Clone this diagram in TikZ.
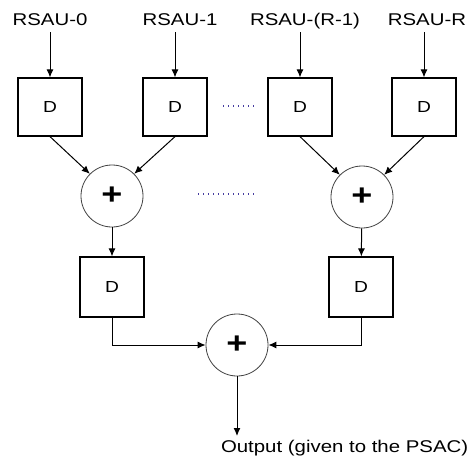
\documentclass[tikz,border=0pt]{standalone}
\usepackage{fontspec}
\setmainfont{Liberation Sans}[FakeStretch=1.2]
\usetikzlibrary{arrows.meta}
\definecolor{dotblue}{RGB}{70,60,160}

\begin{document}
\begin{tikzpicture}[x=1pt,y=-1pt,
  dbox/.style={draw, line width=1.2pt, minimum width=64pt, minimum height=58pt, inner sep=0pt, font=\fontsize{16}{16}\selectfont},
  adder/.style={circle, draw=black!75, line width=0.8pt, minimum size=62pt, inner sep=0pt, font=\fontsize{30}{30}\selectfont\bfseries},
  src/.style={font=\fontsize{17}{20}\selectfont, text height=13pt, text depth=4pt, inner sep=0pt, outer sep=3pt},
  arr/.style={-{Latex[length=8pt,width=7pt]}, line width=1pt},
  gap/.style={line width=1.2pt, color=dotblue, dash pattern=on 1.4pt off 3.6pt}]

 \useasboundingbox (0,0) rectangle (469,463);

 % Inputs
 \node[src, anchor=base] (in0) at (50,25) {RSAU-0};
 \node[src, anchor=base] (in1) at (180,25) {RSAU-1};
 \node[src, anchor=base] (in2) at (305,25) {RSAU-(R-1)};
 \node[src, anchor=base] (in3) at (427,25) {RSAU-R};

 % First row of delays
 \node[dbox] (d0) at (50,107) {D};
 \node[dbox] (d1) at (175,107) {D};
 \node[dbox] (d2) at (300,107) {D};
 \node[dbox] (d3) at (424,107) {D};

 % Adders
 \node[adder] (s0) at (112,196) {+};
 \node[adder] (s1) at (362,197) {+};

 % Second row of delays
 \node[dbox, minimum height=60pt] (d4) at (112,287) {D};
 \node[dbox, minimum height=60pt] (d5) at (361,287) {D};

 % Final adder and output
 \node[adder] (s2) at (237,345) {+};
 \node[font=\fontsize{17}{20}\selectfont, anchor=base west, text height=13pt, inner sep=0pt, outer sep=3pt] (out) at (218,452) {Output (given to the PSAC)};

 % Input arrows
 \draw[arr] (in0.south -| d0) -- (d0);
 \draw[arr] (in1.south -| d1) -- (d1);
 \draw[arr] (in2.south -| d2) -- (d2);
 \draw[arr] (in3.south -| d3) -- (d3);

 % Into the adders
 \draw[arr] (d0.south) -- (s0.north west);
 \draw[arr] (d1.south) -- (s0.north east);
 \draw[arr] (d2.south) -- (s1.north west);
 \draw[arr] (d3.south) -- (s1.north east);
 \draw[arr] (s0) -- (d4);
 \draw[arr] (s1) -- (d5);
 \draw[arr] (d4.south) |- (s2.west);
 \draw[arr] (d5.south) |- (s2.east);
 \draw[arr] (s2) -- (s2 |- out.north);

 % Dots
 \draw[gap] (223,106) -- (254,106);
 \draw[gap] (198,194) -- (254,194);
\end{tikzpicture}
\end{document}
